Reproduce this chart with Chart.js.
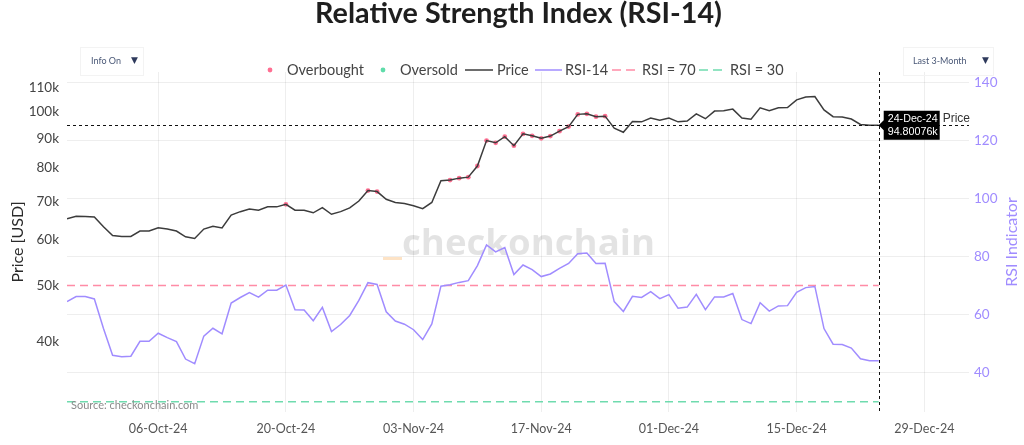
<!DOCTYPE html>
<html>
<head>
<meta charset="utf-8">
<script src="https://cdn.jsdelivr.net/npm/chart.js@4.4.1/dist/chart.umd.min.js"></script>
<style>
html,body{margin:0;padding:0;background:#ffffff;}
#wrap{width:1024px;height:445px;position:relative;overflow:hidden;}
</style>
</head>
<body>
<div id="wrap"><canvas id="c" width="1024" height="445"></canvas></div>
<script>
// ---------------- DATA ----------------
const dates = [
 '26-Sep-24','27-Sep-24','28-Sep-24','29-Sep-24','30-Sep-24',
 '01-Oct-24','02-Oct-24','03-Oct-24','04-Oct-24','05-Oct-24','06-Oct-24','07-Oct-24','08-Oct-24','09-Oct-24','10-Oct-24',
 '11-Oct-24','12-Oct-24','13-Oct-24','14-Oct-24','15-Oct-24','16-Oct-24','17-Oct-24','18-Oct-24','19-Oct-24','20-Oct-24',
 '21-Oct-24','22-Oct-24','23-Oct-24','24-Oct-24','25-Oct-24','26-Oct-24','27-Oct-24','28-Oct-24','29-Oct-24','30-Oct-24','31-Oct-24',
 '01-Nov-24','02-Nov-24','03-Nov-24','04-Nov-24','05-Nov-24','06-Nov-24','07-Nov-24','08-Nov-24','09-Nov-24','10-Nov-24',
 '11-Nov-24','12-Nov-24','13-Nov-24','14-Nov-24','15-Nov-24','16-Nov-24','17-Nov-24','18-Nov-24','19-Nov-24','20-Nov-24',
 '21-Nov-24','22-Nov-24','23-Nov-24','24-Nov-24','25-Nov-24','26-Nov-24','27-Nov-24','28-Nov-24','29-Nov-24','30-Nov-24',
 '01-Dec-24','02-Dec-24','03-Dec-24','04-Dec-24','05-Dec-24','06-Dec-24','07-Dec-24','08-Dec-24','09-Dec-24','10-Dec-24',
 '11-Dec-24','12-Dec-24','13-Dec-24','14-Dec-24','15-Dec-24','16-Dec-24','17-Dec-24','18-Dec-24','19-Dec-24','20-Dec-24',
 '21-Dec-24','22-Dec-24','23-Dec-24','24-Dec-24'
];
// Price in thousands of USD
const price = [
 65.3, 66.0, 65.9, 65.8, 63.3, 61.1, 60.9, 60.9, 62.2, 62.2,
 63.0, 62.7, 62.2, 60.8, 60.4, 62.7, 63.4, 63.0, 66.3, 67.2,
 67.9, 67.6, 68.5, 68.5, 69.2, 67.6, 67.6, 66.9, 68.3, 66.5,
 67.2, 68.2, 70.1, 73.1, 72.8, 70.6, 69.7, 69.4, 68.8, 68.0,
 69.7, 76.0, 76.2, 76.8, 77.1, 80.6, 89.2, 88.4, 90.6, 87.4,
 91.6, 90.9, 90.0, 90.8, 92.6, 94.3, 99.0, 99.2, 98.1, 98.3,
 93.7, 92.2, 96.2, 96.1, 97.6, 96.7, 97.6, 96.1, 96.4, 99.2,
 97.3, 100.3, 100.4, 101.1, 97.6, 97.1, 101.6, 100.5, 101.6, 101.7,
 104.9, 106.1, 106.3, 100.8, 98.1, 98.0, 97.2, 95.1, 94.85, 94.80076
];
const rsi = [
 64.5, 66.2, 66.2, 65.4, 55.2, 46.0, 45.5, 45.7, 50.8, 50.8,
 53.6, 52.1, 50.7, 44.7, 43.1, 52.6, 55.3, 53.4, 64.0, 65.9,
 67.6, 66.0, 68.4, 68.4, 70.2, 61.7, 61.6, 57.9, 62.5, 54.2,
 56.6, 59.7, 64.9, 71.0, 70.4, 61.0, 57.8, 56.7, 54.8, 51.4,
 56.8, 69.8, 70.3, 71.1, 71.7, 76.9, 84.0, 81.6, 83.1, 73.8,
 77.1, 75.5, 73.1, 74.0, 75.9, 77.6, 81.0, 81.2, 77.6, 77.7,
 64.5, 61.1, 66.3, 65.9, 67.9, 65.5, 66.9, 62.2, 62.6, 67.0,
 61.7, 66.1, 66.1, 67.3, 58.3, 56.9, 64.1, 61.2, 63.0, 63.1,
 67.7, 69.3, 69.7, 55.2, 49.8, 49.7, 48.5, 44.8, 44.1, 44.1
];
const xTickLabels = ['06-Oct-24','20-Oct-24','03-Nov-24','17-Nov-24','01-Dec-24','15-Dec-24','29-Dec-24'];
const priceTicks = [40, 50, 60, 70, 80, 90, 100, 110];
const rsiTicks = [40, 60, 80, 100, 120, 140];
const overboughtLevel = 70;
const oversoldLevel = 30;
const lastDateEnd = '03-Jan-25';

// ---------------- HELPERS ----------------
const MONTHS = ['Jan','Feb','Mar','Apr','May','Jun','Jul','Aug','Sep','Oct','Nov','Dec'];
function parseDay(s){
  const p = s.split('-');
  return Date.UTC(2000 + (+p[2]), MONTHS.indexOf(p[1]), +p[0]) / 86400000;
}
const X = dates.map(parseDay);
const xTickVals = xTickLabels.map(parseDay);
const tickLabelMap = {};
xTickVals.forEach((v, i) => { tickLabelMap[v] = xTickLabels[i]; });

const priceData = X.map((x, i) => ({x: x, y: price[i]}));
const rsiData = X.map((x, i) => ({x: x, y: rsi[i]}));
const obData = [], osData = [];
X.forEach((x, i) => {
  if (rsi[i] > overboughtLevel) obData.push({x: x, y: price[i]});
  if (rsi[i] < oversoldLevel) osData.push({x: x, y: price[i]});
});
const x0 = X[0], xN = X[X.length - 1];

const C = {
  price: '#3c3c3c',
  rsi: '#a08cff',
  ob: '#ff6f92',
  os: '#5fdcaa',
  l70: 'rgba(255,120,150,0.85)',
  l30: 'rgba(95,215,165,0.9)',
  grid: 'rgba(0,0,0,0.065)'
};

function fitFont(ctx, text, target, weight, family, base){
  ctx.font = weight + ' ' + base + 'px ' + family;
  const w = ctx.measureText(text).width;
  const s = base * target / w;
  ctx.font = weight + ' ' + s.toFixed(2) + 'px ' + family;
  return s;
}

const decor = {
  id: 'decor',
  beforeDraw(chart){
    const ctx = chart.ctx;
    ctx.save();
    ctx.fillStyle = '#ffffff';
    ctx.fillRect(0, 0, chart.width, chart.height);
    ctx.restore();
  },
  beforeDatasetsDraw(chart){
    const ctx = chart.ctx;
    ctx.save();
    // watermark
    ctx.fillStyle = 'rgba(0,0,0,0.11)';
    fitFont(ctx, 'checkonchain', 253, 'bold', '"Open Sans", sans-serif', 40);
    ctx.textAlign = 'left';
    ctx.textBaseline = 'alphabetic';
    ctx.fillText('checkonchain', 402, 255);
    ctx.fillStyle = '#fde3c6';
    ctx.fillRect(383, 257, 19, 3);
    ctx.restore();
  },
  afterDatasetsDraw(chart){
    const ctx = chart.ctx;
    const a = chart.chartArea;
    const xs = chart.scales.x, yp = chart.scales.yP;
    ctx.save();
    // source
    ctx.fillStyle = '#8a8a8a';
    ctx.font = '11px Lato, sans-serif';
    ctx.textBaseline = 'middle';
    ctx.textAlign = 'left';
    ctx.fillText('Source: checkonchain.com', 71, 405);

    // spike lines for the last point
    const px = xs.getPixelForValue(xN);
    const py = yp.getPixelForValue(price[price.length - 1]);
    ctx.strokeStyle = '#111';
    ctx.lineWidth = 1;
    ctx.setLineDash([3, 3]);
    ctx.beginPath();
    ctx.moveTo(a.left, Math.round(py) + 0.5);
    ctx.lineTo(a.right, Math.round(py) + 0.5);
    ctx.moveTo(Math.round(px) + 0.5, a.top);
    ctx.lineTo(Math.round(px) + 0.5, a.bottom);
    ctx.stroke();
    ctx.setLineDash([]);

    // hover label box
    const bx = px + 5, by = py - 14.5, bw = 56, bh = 29;
    ctx.fillStyle = '#000';
    ctx.beginPath();
    ctx.moveTo(px, py);
    ctx.lineTo(bx, py - 5);
    ctx.lineTo(bx, by);
    ctx.lineTo(bx + bw, by);
    ctx.lineTo(bx + bw, by + bh);
    ctx.lineTo(bx, by + bh);
    ctx.lineTo(bx, py + 5);
    ctx.closePath();
    ctx.fill();
    ctx.fillStyle = '#fff';
    ctx.textAlign = 'left';
    fitFont(ctx, dates[dates.length - 1], 50, 'normal', '"Liberation Sans", Arial, sans-serif', 12);
    ctx.fillText(dates[dates.length - 1], bx + 4, py - 6.5);
    ctx.fillText(price[price.length - 1] + 'k', bx + 4, py + 7);
    ctx.fillStyle = '#333';
    ctx.font = '12px "Liberation Sans", Arial, sans-serif';
    ctx.fillText('Price', bx + bw + 3, py - 6.5);
    ctx.restore();
  },
  afterDraw(chart){
    const ctx = chart.ctx;
    ctx.save();
    // title
    ctx.fillStyle = '#1e1e1e';
    ctx.textAlign = 'center';
    ctx.textBaseline = 'middle';
    fitFont(ctx, 'Relative Strength Index (RSI-14)', 407, 'bold', 'Lato, sans-serif', 26);
    ctx.fillText('Relative Strength Index (RSI-14)', 518.5, 14);

    // legend
    const ly = 70;
    ctx.textAlign = 'left';
    ctx.textBaseline = 'middle';
    ctx.font = '14.5px Lato, sans-serif';
    ctx.fillStyle = '#444';
    const items = [
      {t: 'Overbought', tx: 287},
      {t: 'Oversold', tx: 400},
      {t: 'Price', tx: 497},
      {t: 'RSI-14', tx: 565},
      {t: 'RSI = 70', tx: 642},
      {t: 'RSI = 30', tx: 730}
    ];
    items.forEach(it => ctx.fillText(it.t, it.tx, ly));
    // symbols
    ctx.fillStyle = C.ob;
    ctx.beginPath(); ctx.arc(270, ly, 2.4, 0, Math.PI * 2); ctx.fill();
    ctx.fillStyle = C.os;
    ctx.beginPath(); ctx.arc(383, ly, 2.4, 0, Math.PI * 2); ctx.fill();
    ctx.lineWidth = 1.5;
    ctx.strokeStyle = C.price;
    ctx.beginPath(); ctx.moveTo(465, ly); ctx.lineTo(493, ly); ctx.stroke();
    ctx.strokeStyle = C.rsi;
    ctx.beginPath(); ctx.moveTo(535, ly); ctx.lineTo(562, ly); ctx.stroke();
    ctx.setLineDash([9, 5]);
    ctx.strokeStyle = C.l70;
    ctx.beginPath(); ctx.moveTo(612, ly); ctx.lineTo(640, ly); ctx.stroke();
    ctx.strokeStyle = C.l30;
    ctx.beginPath(); ctx.moveTo(699, ly); ctx.lineTo(727, ly); ctx.stroke();
    ctx.setLineDash([]);

    // buttons
    ctx.strokeStyle = '#f3f3f3';
    ctx.lineWidth = 1;
    ctx.strokeRect(80.5, 47.5, 63, 28);
    ctx.strokeRect(903.5, 47.5, 90, 28);
    ctx.fillStyle = '#4a5877';
    ctx.font = '9px Lato, sans-serif';
    ctx.textBaseline = 'middle';
    ctx.fillText('Info On', 91, 61);
    ctx.fillText('Last 3-Month', 913, 61);
    ctx.font = '9px "DejaVu Sans", sans-serif';
    ctx.fillStyle = '#2e3a5c';
    ctx.fillText('\u25BC', 131, 61);
    ctx.fillText('\u25BC', 982, 61);

    // right axis title (reads bottom-to-top)
    const a = chart.chartArea;
    ctx.translate(1012, (a.top + a.bottom) / 2);
    ctx.rotate(-Math.PI / 2);
    ctx.textAlign = 'center';
    ctx.fillStyle = C.rsi;
    ctx.font = '16px Lato, sans-serif';
    ctx.fillText('RSI Indicator', 0, 0);
    ctx.restore();
  }
};

Chart.defaults.font.family = 'Lato, sans-serif';

new Chart(document.getElementById('c'), {
  type: 'line',
  data: {
    datasets: [
      {label: 'Price', data: priceData, yAxisID: 'yP', borderColor: C.price, borderWidth: 1.5, pointRadius: 0, tension: 0, order: 0},
      {label: 'Overbought', data: obData, yAxisID: 'yP', showLine: false, pointRadius: 2.4, pointHoverRadius: 2.4,
       pointBackgroundColor: C.ob, pointBorderWidth: 0, borderColor: C.ob, order: 1},
      {label: 'Oversold', data: osData, yAxisID: 'yP', showLine: false, pointRadius: 2.4,
       pointBackgroundColor: C.os, pointBorderWidth: 0, borderColor: C.os, order: 1},
      {label: 'RSI-14', data: rsiData, yAxisID: 'yR', borderColor: C.rsi, borderWidth: 1.5, pointRadius: 0, tension: 0, order: 2},
      {label: 'RSI = 70', data: [{x: x0, y: overboughtLevel}, {x: xN, y: overboughtLevel}], yAxisID: 'yR',
       borderColor: C.l70, borderWidth: 1.5, borderDash: [8, 5], pointRadius: 0, order: 3},
      {label: 'RSI = 30', data: [{x: x0, y: oversoldLevel}, {x: xN, y: oversoldLevel}], yAxisID: 'yR',
       borderColor: C.l30, borderWidth: 1.5, borderDash: [8, 5], pointRadius: 0, order: 3}
    ]
  },
  options: {
    responsive: false,
    animation: false,
    devicePixelRatio: 1,
    layout: {padding: {top: 72, left: 0, right: 0, bottom: 0}},
    plugins: {legend: {display: false}, title: {display: false}, tooltip: {enabled: false}},
    events: [],
    scales: {
      x: {
        type: 'linear',
        min: x0,
        max: parseDay(lastDateEnd) - 0.1,
        afterBuildTicks: s => { s.ticks = xTickVals.map(v => ({value: v})); },
        ticks: {callback: v => tickLabelMap[v] || '', color: '#555', font: {size: 12.5}, padding: 9, maxRotation: 0, autoSkip: false},
        grid: {color: C.grid, drawTicks: false},
        border: {display: false},
        afterFit: s => { s.height = 33; }
      },
      yP: {
        type: 'logarithmic',
        position: 'left',
        min: 30.26,
        max: 117.2,
        afterBuildTicks: s => { s.ticks = priceTicks.map(v => ({value: v})); },
        ticks: {callback: v => v + 'k', color: '#444', font: {size: 13.5}, padding: 8, autoSkip: false},
        grid: {display: false, drawTicks: false},
        border: {display: false},
        title: {display: true, text: 'Price [USD]', color: '#2a2a2a', font: {size: 16}, padding: {top: 8.4, bottom: 0}},
        afterFit: s => { s.width = 67; }
      },
      yR: {
        type: 'linear',
        position: 'right',
        min: 26.47,
        max: 143.55,
        afterBuildTicks: s => { s.ticks = rsiTicks.map(v => ({value: v})); },
        ticks: {color: C.rsi, font: {size: 13.5}, padding: 5, autoSkip: false},
        grid: {color: C.grid, drawTicks: false},
        border: {display: false},
        afterFit: s => { s.width = 55; }
      }
    }
  },
  plugins: [decor]
});
</script>
</body>
</html>
